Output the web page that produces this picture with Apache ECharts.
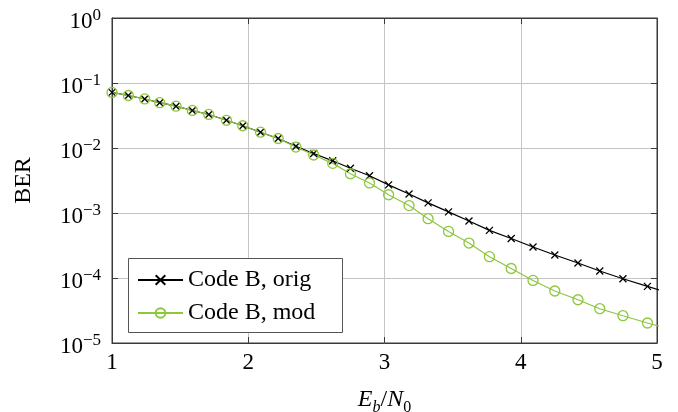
<!DOCTYPE html>
<html><head><meta charset="utf-8">
<script src="https://cdn.jsdelivr.net/npm/echarts@6/dist/echarts.min.js"></script>
<style>html,body{margin:0;padding:0;background:#fff}#c{width:678px;height:412px}</style>
</head><body><div id="c"></div>
<script>
const ebn0 = [1.00,1.12,1.24,1.35,1.47,1.59,1.71,1.84,1.96,2.09,2.22,2.35,2.48,2.62,2.75,2.89,3.03,3.18,3.32,3.47,3.62,3.77,3.93,4.09,4.25,4.42,4.58,4.75,4.93,5.11];
const berOrig = [0.0717,0.0642,0.0568,0.0498,0.0440,0.0378,0.0328,0.0267,0.0220,0.0175,0.0140,0.01066,0.00822,0.00635,0.00489,0.00374,0.00271,0.00196,0.00143,0.00104,0.000753,0.000540,0.000405,0.000300,0.000226,0.000170,0.000128,0.0000975,0.0000743,0.0000575];
const berMod = [0.0717,0.0642,0.0568,0.0498,0.0440,0.0378,0.0328,0.0267,0.0220,0.0175,0.0140,0.01035,0.0078,0.0058,0.00402,0.0029,0.00191,0.00130,0.000817,0.000521,0.000345,0.000213,0.000140,0.0000918,0.0000631,0.0000463,0.0000337,0.0000263,0.0000203,0.0000160];
const seriesNames = ['Code B, orig', 'Code B, mod'];

const FONT = 'Liberation Serif';
const FRAME = '#3a3a3a';
const GRIDC = '#c4c4c4';
const GREEN = '#8dc63f';

function pairs(xs, ys){ return xs.map((x,i)=>[x, ys[i]]); }

const chart = echarts.init(document.getElementById('c'), null, {renderer:'canvas'});
const tickCommon = {show:true, inside:true, length:6, lineStyle:{color:FRAME, width:1}};
chart.setOption({
  animation:false,
  backgroundColor:'#fff',
  grid:{left:112, right:21, top:18, bottom:69, show:true, borderColor:FRAME, borderWidth:1,
        backgroundColor:'transparent', containLabel:false, outerBoundsMode:'none'},
  xAxis:[{
    type:'value', min:1, max:5, interval:1,
    axisLine:{show:true, lineStyle:{color:FRAME, width:1}},
    axisTick:tickCommon,
    splitLine:{show:true, lineStyle:{color:GRIDC, width:1}},
    axisLabel:{fontFamily:FONT, fontSize:23, color:'#000', margin:8, lineHeight:23},
    name:'{i|E}{s|b}{r|/}{i|N}{s0|0}',
    nameLocation:'middle', nameGap:45,
    nameTextStyle:{rich:{
      i:{fontFamily:FONT, fontStyle:'italic', fontSize:24, color:'#000', lineHeight:28, verticalAlign:'top'},
      r:{fontFamily:FONT, fontSize:24, color:'#000', lineHeight:28, verticalAlign:'top'},
      s:{fontFamily:FONT, fontStyle:'italic', fontSize:16, color:'#000', lineHeight:18, verticalAlign:'bottom'},
      s0:{fontFamily:FONT, fontSize:16, color:'#000', lineHeight:18, verticalAlign:'bottom'}
    }}
  },{
    type:'value', position:'top', min:1, max:5, interval:1,
    axisLine:{show:true, lineStyle:{color:FRAME, width:1}},
    axisTick:tickCommon, axisLabel:{show:false}, splitLine:{show:false}
  }],
  yAxis:[{
    type:'log', logBase:10, min:1e-5, max:1, splitNumber:5,
    axisLine:{show:true, lineStyle:{color:FRAME, width:1}},
    axisTick:tickCommon,
    minorTick:{show:false},
    splitLine:{show:true, lineStyle:{color:GRIDC, width:1}},
    axisLabel:{
      margin:11, padding:[8,0,0,0],
      formatter:function(v){
        const e = Math.round(Math.log10(v));
        return '{a|10}{sup|' + (e===0 ? '0' : '\u2212' + (-e)) + '}';
      },
      rich:{
        a:{fontFamily:FONT, fontSize:23, color:'#000', lineHeight:30},
        sup:{fontFamily:FONT, fontSize:17, color:'#000', lineHeight:18, verticalAlign:'top'}
      }
    },
    name:'BER', nameLocation:'middle', nameGap:76,
    nameTextStyle:{fontFamily:FONT, fontSize:24, color:'#000'}
  },{
    type:'log', logBase:10, min:1e-5, max:1, splitNumber:5, position:'right',
    axisLine:{show:true, lineStyle:{color:FRAME, width:1}},
    axisTick:tickCommon, axisLabel:{show:false}, splitLine:{show:false}
  }],
  legend:{
    orient:'vertical', left:137, top:268, padding:0, itemGap:9,
    itemWidth:45, itemHeight:12, z:20,
    textStyle:{fontFamily:FONT, fontSize:24, color:'#000'},
    data:seriesNames
  },
  graphic:[{
    type:'rect', z:19, shape:{x:128.5, y:258.5, width:214, height:74},
    style:{fill:'#fff', stroke:'#555', lineWidth:1}
  }],
  series:[{
    name:seriesNames[0], type:'line', xAxisIndex:0, yAxisIndex:0,
    data:pairs(ebn0, berOrig), clip:true,
    symbol:'path://M0,0L10,10M0,10L10,0', symbolSize:7,
    lineStyle:{color:'#000', width:1.2},
    itemStyle:{color:'#000', borderColor:'#000', borderWidth:1.3}
  },{
    name:seriesNames[1], type:'line', xAxisIndex:0, yAxisIndex:0,
    data:pairs(ebn0, berMod), clip:true,
    symbol:'circle', symbolSize:10,
    lineStyle:{color:GREEN, width:1.2},
    itemStyle:{color:'rgba(0,0,0,0)', borderColor:GREEN, borderWidth:1.3}
  }]
});
</script></body></html>
